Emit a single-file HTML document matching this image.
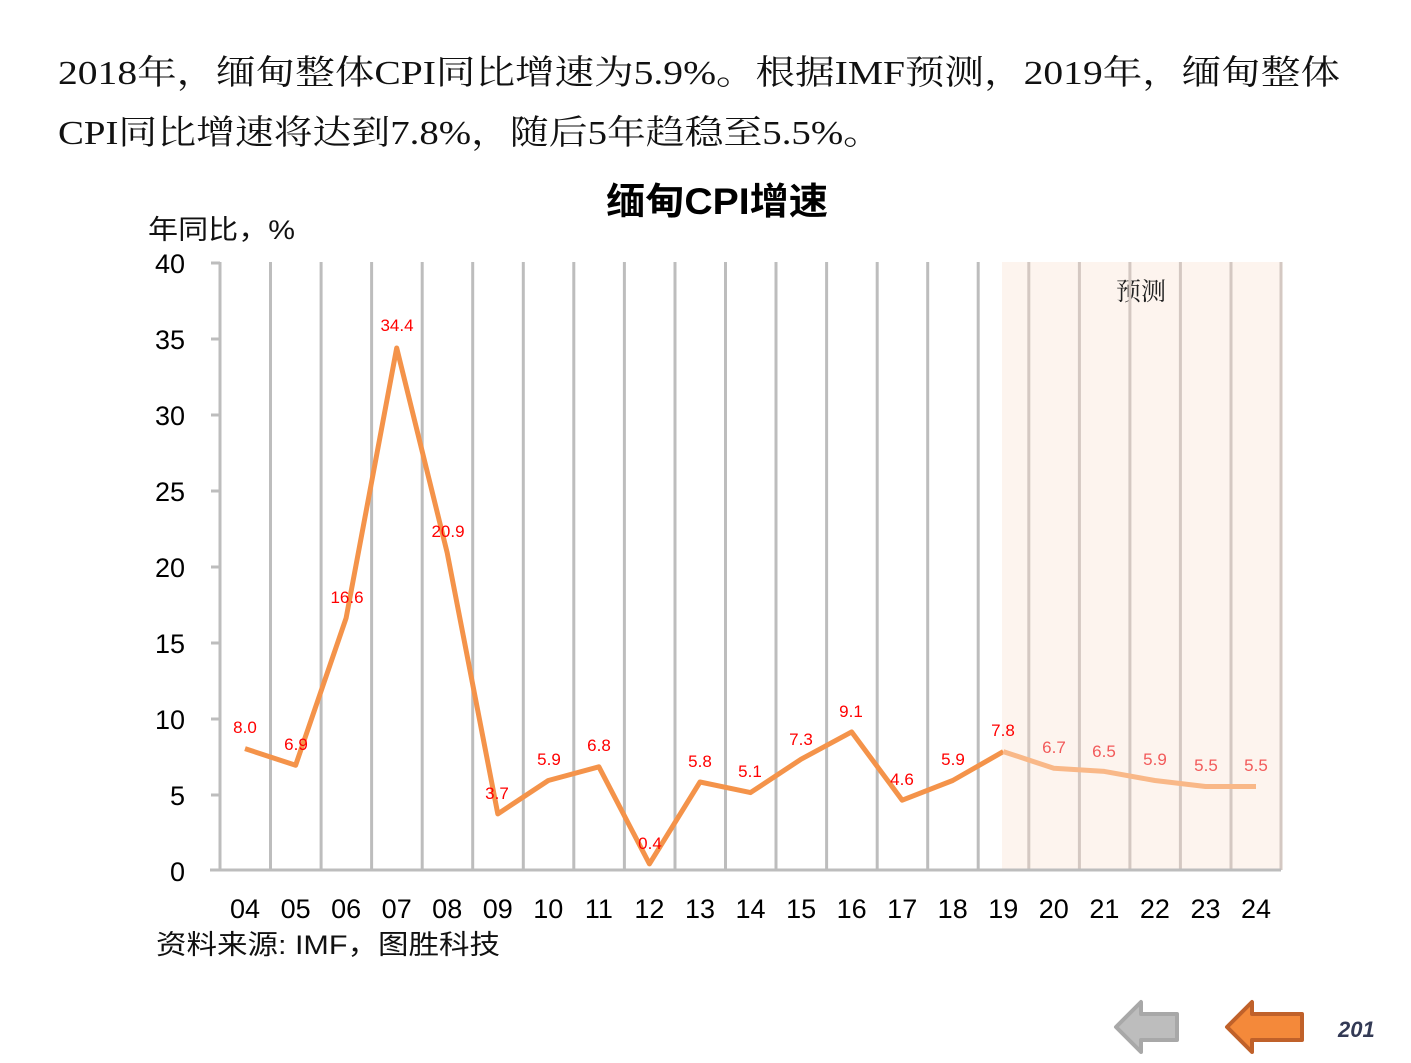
<!DOCTYPE html>
<html><head><meta charset="utf-8"><style>
html,body{margin:0;padding:0;background:#fff;}
body{width:1411px;height:1058px;overflow:hidden;}
</style></head><body>
<svg width="1411" height="1058" xmlns="http://www.w3.org/2000/svg">
<g font-family="'Liberation Serif','Noto Serif CJK SC',serif" font-size="34" fill="#111">
<text x="58" y="84" textLength="1282" lengthAdjust="spacingAndGlyphs">2018年，缅甸整体CPI同比增速为5.9%。根据IMF预测，2019年，缅甸整体</text>
<text x="58" y="144" textLength="824" lengthAdjust="spacingAndGlyphs">CPI同比增速将达到7.8%，随后5年趋稳至5.5%。</text>
</g>
<text x="606" y="214" textLength="222" lengthAdjust="spacingAndGlyphs" font-family="'Liberation Sans','Noto Sans CJK SC',sans-serif" font-size="37" font-weight="bold" fill="#000">缅甸CPI增速</text>
<text x="148" y="239" textLength="147" lengthAdjust="spacingAndGlyphs" font-family="'Liberation Sans','Noto Sans CJK SC',sans-serif" font-size="27" fill="#111">年同比，%</text>
<rect x="1002" y="262" width="278" height="608" fill="#fdf4ee"/>
<text x="1141" y="300" text-anchor="middle" font-family="'Liberation Serif','Noto Serif CJK SC',serif" font-size="25" fill="#222">预测</text>
<g stroke="#bdbdbd" stroke-width="3">
<line x1="220" y1="262" x2="220" y2="870"/>
<line x1="270.5" y1="262" x2="270.5" y2="870"/><line x1="321.1" y1="262" x2="321.1" y2="870"/><line x1="371.6" y1="262" x2="371.6" y2="870"/><line x1="422.2" y1="262" x2="422.2" y2="870"/><line x1="472.7" y1="262" x2="472.7" y2="870"/><line x1="523.3" y1="262" x2="523.3" y2="870"/><line x1="573.8" y1="262" x2="573.8" y2="870"/><line x1="624.4" y1="262" x2="624.4" y2="870"/><line x1="675" y1="262" x2="675" y2="870"/><line x1="725.5" y1="262" x2="725.5" y2="870"/><line x1="776" y1="262" x2="776" y2="870"/><line x1="826.6" y1="262" x2="826.6" y2="870"/><line x1="877.2" y1="262" x2="877.2" y2="870"/><line x1="927.7" y1="262" x2="927.7" y2="870"/><line x1="978.2" y1="262" x2="978.2" y2="870"/><line x1="1028.8" y1="262" x2="1028.8" y2="870" stroke="#d4c8c2"/><line x1="1079.4" y1="262" x2="1079.4" y2="870" stroke="#d4c8c2"/><line x1="1129.9" y1="262" x2="1129.9" y2="870" stroke="#d4c8c2"/><line x1="1180.4" y1="262" x2="1180.4" y2="870" stroke="#d4c8c2"/><line x1="1231" y1="262" x2="1231" y2="870" stroke="#d4c8c2"/><line x1="1281" y1="262" x2="1281" y2="870" stroke="#d4c8c2"/>
<line x1="210" y1="870" x2="1281" y2="870"/>
<line x1="211" y1="263" x2="220" y2="263"/><line x1="211" y1="339" x2="220" y2="339"/><line x1="211" y1="415" x2="220" y2="415"/><line x1="211" y1="491" x2="220" y2="491"/><line x1="211" y1="567" x2="220" y2="567"/><line x1="211" y1="643" x2="220" y2="643"/><line x1="211" y1="719" x2="220" y2="719"/><line x1="211" y1="795" x2="220" y2="795"/>
</g>
<g font-family="'Liberation Sans',sans-serif" font-size="27" fill="#000" text-anchor="end">
<text x="185" y="273">40</text><text x="185" y="349">35</text><text x="185" y="425">30</text><text x="185" y="501">25</text><text x="185" y="577">20</text><text x="185" y="653">15</text><text x="185" y="729">10</text><text x="185" y="805">5</text><text x="185" y="881">0</text>
</g>
<g font-family="'Liberation Sans',sans-serif" font-size="27" fill="#000" text-anchor="middle">
<text x="245" y="918">04</text><text x="295.6" y="918">05</text><text x="346.1" y="918">06</text><text x="396.7" y="918">07</text><text x="447.2" y="918">08</text><text x="497.8" y="918">09</text><text x="548.3" y="918">10</text><text x="598.9" y="918">11</text><text x="649.4" y="918">12</text><text x="700" y="918">13</text><text x="750.5" y="918">14</text><text x="801.1" y="918">15</text><text x="851.6" y="918">16</text><text x="902.2" y="918">17</text><text x="952.7" y="918">18</text><text x="1003.3" y="918">19</text><text x="1053.8" y="918">20</text><text x="1104.4" y="918">21</text><text x="1154.9" y="918">22</text><text x="1205.5" y="918">23</text><text x="1256" y="918">24</text>
</g>
<text x="156" y="954" textLength="344" lengthAdjust="spacingAndGlyphs" font-family="'Liberation Sans','Noto Sans CJK SC',sans-serif" font-size="27" fill="#111">资料来源: IMF，图胜科技</text>
<polyline fill="none" stroke="#f4934a" stroke-width="5" stroke-linejoin="round" points="245,748.6 295.6,765.3 346.1,618.1 396.7,348 447.2,552.8 497.8,813.9 548.3,780.5 598.9,766.8 649.4,863.9 700,782 750.5,792.6 801.1,759.2 851.6,731.9 902.2,800.2 952.7,780.5 1003.3,751.6"/>
<polyline fill="none" stroke="#f9b888" stroke-width="5" stroke-linejoin="round" points="1003.3,751.6 1053.8,768.3 1104.4,771.4 1154.9,780.5 1205.5,786.5 1256,786.5"/>
<g font-family="'Liberation Sans',sans-serif" font-size="17" fill="#ff0000" text-anchor="middle">
<text x="245" y="733">8.0</text><text x="296" y="750">6.9</text><text x="347" y="603">16.6</text><text x="397" y="331">34.4</text><text x="448" y="537">20.9</text><text x="497" y="799">3.7</text><text x="549" y="765">5.9</text><text x="599" y="751">6.8</text><text x="650" y="849">0.4</text><text x="700" y="767">5.8</text><text x="750" y="777">5.1</text><text x="801" y="745">7.3</text><text x="851" y="717">9.1</text><text x="902" y="785">4.6</text><text x="953" y="765">5.9</text><text x="1003" y="736">7.8</text>
</g>
<g font-family="'Liberation Sans',sans-serif" font-size="17" fill="#f25a5a" text-anchor="middle">
<text x="1054" y="753">6.7</text><text x="1104" y="757">6.5</text><text x="1155" y="765">5.9</text><text x="1206" y="771">5.5</text><text x="1256" y="771">5.5</text>
</g>
<polygon points="1116,1027 1141,1002 1141,1014 1177,1014 1177,1040 1141,1040 1141,1052" fill="#bdbdbd" stroke="#a8a8a8" stroke-width="4" stroke-linejoin="round"/>
<polygon points="1227,1027 1252,1002 1252,1014 1302,1014 1302,1040 1252,1040 1252,1052" fill="#f4893a" stroke="#c0612a" stroke-width="4" stroke-linejoin="round"/>
<text x="1338" y="1037" font-family="'Liberation Sans',sans-serif" font-size="22" font-weight="bold" font-style="italic" fill="#333a55">201</text>
</svg>
</body></html>
